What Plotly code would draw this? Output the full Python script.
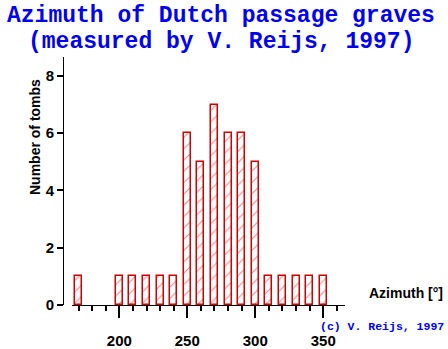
import plotly.graph_objects as go

# Data
azimuth = [170, 200, 210, 220, 230, 240, 250, 260, 270, 280, 290, 300, 310, 320, 330, 340, 350]
tombs = [1, 1, 1, 1, 1, 1, 6, 5, 7, 6, 6, 5, 1, 1, 1, 1, 1]
x_tickvals = [200, 250, 300, 350]
y_tickvals = [0, 2, 4, 6, 8]

W, H = 448, 349
L, R, T, B = 63, 103, 57, 44
PW, PH = W - L - R, H - T - B

def px(x):
    return (x - L) / PW

def py(y):
    return (H - B - y) / PH

RED = "#cc0000"
BLUE = "#0000ee"
sans = "Liberation Sans, Arial, Helvetica, sans-serif"
mono = "Liberation Mono, Courier New, monospace"

fig = go.Figure()
fig.add_trace(go.Bar(
    x=azimuth, y=tombs, width=5.1,
    marker=dict(color="white",
                line=dict(color=RED, width=1.5),
                pattern=dict(shape="/", fgcolor=RED, bgcolor="white", size=8, solidity=0.12)),
    hoverinfo="skip",
))

fig.update_layout(
    width=W, height=H, autosize=False,
    margin=dict(l=L, r=R, t=T, b=B, pad=0, autoexpand=False),
    paper_bgcolor="white", plot_bgcolor="white",
    showlegend=False,
    xaxis=dict(domain=[px(72), 1], range=[165.2, 366], showgrid=False, zeroline=False,
               automargin=False,
               showline=True, linecolor="black", linewidth=1,
               tickmode="array", tickvals=x_tickvals, ticks="outside", ticklen=12,
               tickcolor="black", tickwidth=1.5, ticklabelstandoff=10,
               tickfont=dict(family=sans, size=15, color="black", weight="bold"),
               minor=dict(dtick=10, tick0=0, ticks="outside", ticklen=5, tickcolor="black", tickwidth=1.5)),
    yaxis=dict(anchor="free", position=0, range=[0, 8.66], showgrid=False, zeroline=False,
               automargin=False,
               showline=True, linecolor="black", linewidth=1,
               tickmode="array", tickvals=y_tickvals, ticks="outside", ticklen=6,
               tickcolor="black", tickwidth=1.5,
               tickfont=dict(family=sans, size=15, color="black", weight="bold")),
    bargap=0,
)

ann = [
    dict(text="Azimuth of Dutch passage graves", x=px(221), y=py(16),
         font=dict(family=mono, size=23, color=BLUE, weight="bold")),
    dict(text="(measured by V. Reijs, 1997)", x=px(221), y=py(42),
         font=dict(family=mono, size=23, color=BLUE, weight="bold")),
    dict(text="Number of tombs", x=px(35), y=py(137), textangle=-90,
         font=dict(family=sans, size=14, color="black", weight="bold")),
    dict(text="Azimuth [°]", x=px(405.5), y=py(293),
         font=dict(family=sans, size=14, color="black", weight="bold")),
    dict(text="(c) V. Reijs, 1997", x=px(381.5), y=py(326),
         font=dict(family=mono, size=11.5, color=BLUE, weight="bold")),
]
for a in ann:
    a.update(xref="paper", yref="paper", showarrow=False, xanchor="center", yanchor="middle")
    fig.add_annotation(**a)

fig.write_html("out.html")
